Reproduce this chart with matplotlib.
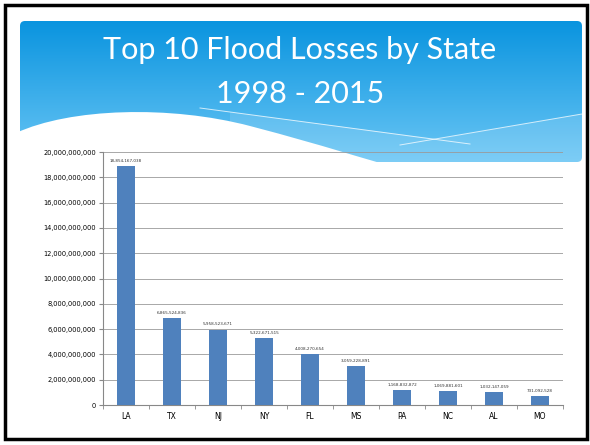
import numpy as np
import matplotlib.pyplot as plt
from matplotlib.patches import Rectangle, FancyBboxPatch, Polygon, PathPatch
from matplotlib.path import Path
from matplotlib.ticker import FuncFormatter, FixedLocator

states = ['LA', 'TX', 'NJ', 'NY', 'FL', 'MS', 'PA', 'NC', 'AL', 'MO']
losses = [18854167038, 6865524836, 5958523671, 5322671515, 4008270654,
          3059228891, 1168832872, 1069881601, 1032147059, 731092528]
title_lines = ['Top 10 Flood Losses by State', '1998 - 2015']

W, H = 590, 445
fig = plt.figure(figsize=(W / 100, H / 100), dpi=100)

# slide background + frame
bg = fig.add_axes([0, 0, 1, 1])
bg.set_xlim(0, W)
bg.set_ylim(H, 0)
bg.axis('off')
bg.add_patch(Rectangle((5, 5), 582, 434, facecolor='white', edgecolor='black', lw=2.5))

# header gradient with rounded corners
x0, x1, y0, y1 = 20, 582, 21, 162
grad = np.linspace(0, 1, 200)[:, None]
c_top = np.array([0x0a, 0x94, 0xdf]) / 255
c_bot = np.array([0x6a, 0xc6, 0xf5]) / 255
img = c_top + (c_bot - c_top) * grad[..., None]
img = np.repeat(img, 2, axis=1)
im = bg.imshow(img, extent=[x0, x1, y1, y0], aspect='auto', zorder=1)
clip = FancyBboxPatch((x0, y0), x1 - x0, y1 - y0, boxstyle='round,pad=0,rounding_size=5',
                      transform=bg.transData, facecolor='none', edgecolor='none')
bg.add_patch(clip)
im.set_clip_path(clip)

# lighter band under the swoosh lines (right side)
band = [(230, 112), (437, 139), (582, 114), (582, 165), (230, 165)]
bg.add_patch(Polygon(band, closed=True, facecolor='white', alpha=0.13, edgecolor='none', zorder=2))
bg.plot([200, 470], [108, 144], color='white', lw=0.7, alpha=0.75, zorder=3)
bg.plot([400, 582], [145, 114], color='white', lw=0.7, alpha=0.75, zorder=3)

# white wave cutting the header
verts = [(16, 133), (70, 108), (170, 105), (250, 126),
         (330, 147), (360, 158), (395, 167),
         (395, 175), (16, 175), (16, 133)]
codes = [Path.MOVETO, Path.CURVE4, Path.CURVE4, Path.CURVE4,
         Path.CURVE4, Path.CURVE4, Path.CURVE4,
         Path.LINETO, Path.LINETO, Path.CLOSEPOLY]
bg.add_patch(PathPatch(Path(verts, codes), facecolor='white', edgecolor='none', zorder=4))

for yy, line in zip([50, 94], title_lines):
    bg.text(W / 2 + 5, yy, line, color='white', fontsize=22, ha='center', va='center',
            family='Lato', zorder=5)

# chart
ax = fig.add_axes([103 / W, 1 - 405 / H, (563 - 103) / W, (405 - 152) / H])
ax.patch.set_alpha(0)
x = np.arange(len(states))
ax.bar(x, losses, width=0.4, color='#4f81bd', zorder=3)
for xi, v in zip(x, losses):
    ax.text(xi, v + 2.5e8, f'{v:,}', ha='center', va='bottom', fontsize=3, color='#333333')

ax.set_xlim(-0.5, len(states) - 0.5)
ax.set_ylim(0, 2e10)
ax.set_yticks(np.arange(0, 2.01e10, 2e9))
ax.yaxis.set_major_formatter(FuncFormatter(lambda v, p: f'{int(v):,}'))
ax.set_xticks(x)
ax.set_xticklabels(states)
ax.xaxis.set_minor_locator(FixedLocator(np.arange(-0.5, len(states), 1)))
ax.tick_params(axis='x', which='major', length=0, labelsize=5.5, pad=5)
ax.tick_params(axis='x', which='minor', length=3, color='#888888', direction='out')
ax.tick_params(axis='y', length=3, color='#888888', labelsize=4.8, pad=2)
ax.grid(axis='y', color='#9a9a9a', lw=0.6, zorder=0)
for s in ['top', 'right']:
    ax.spines[s].set_visible(False)
ax.spines['left'].set_color('#888888')
ax.spines['bottom'].set_color('#888888')
ax.spines['left'].set_linewidth(0.8)
ax.spines['bottom'].set_linewidth(0.8)

fig.savefig('out.png', dpi=100)
